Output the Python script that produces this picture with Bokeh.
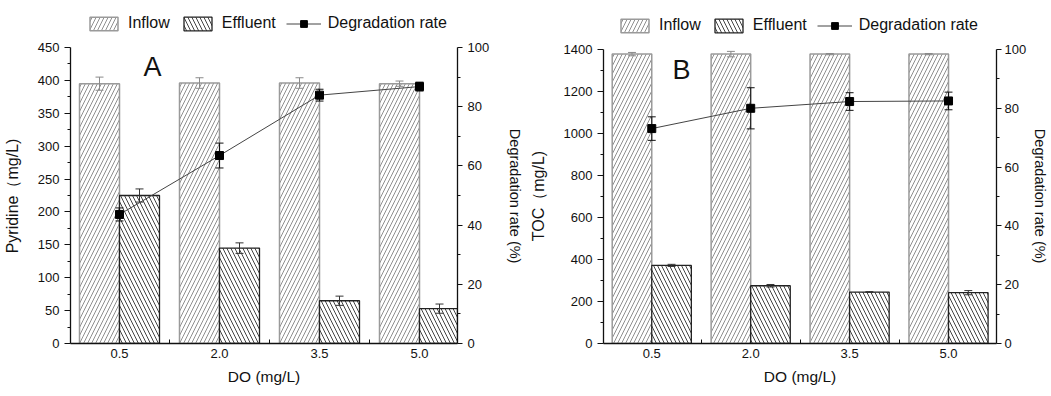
import numpy as np
from bokeh.plotting import figure
from bokeh.layouts import row
from bokeh.models import (Range1d, LinearAxis, FixedTicker, Legend, LegendItem,
                          Label, ColumnDataSource)
from bokeh.embed import file_html
from bokeh.resources import INLINE

# ---------------- data ----------------
categories = ["0.5", "2.0", "3.5", "5.0"]

a_inflow = [395, 396, 396, 395]
a_inflow_err = [10, 8, 8, 4]
a_effluent = [225, 145, 65, 53]
a_effluent_err = [10, 8, 7, 7]
a_rate = [43.6, 63.5, 83.9, 86.8]
a_rate_err = [2.2, 4.2, 2.0, 1.5]

b_inflow = [1378, 1378, 1378, 1378]
b_inflow_err = [8, 13, 3, 3]
b_effluent = [372, 275, 245, 242]
b_effluent_err = [5, 6, 2, 10]
b_rate = [73.1, 80.0, 82.3, 82.5]
b_rate_err = [4, 7, 3, 3]

FONT = "Liberation Sans"
PAD = "\u00a0"  # keeps the axis titles centred on the (bounded) axes


def err_segments(p, xs, ys, es, color, cap, width=1, y_range_name="default"):
    xs = np.asarray(xs, float)
    ys = np.asarray(ys, float)
    es = np.asarray(es, float)
    src = ColumnDataSource(dict(x=xs, lo=ys - es, hi=ys + es,
                                xl=xs - cap, xr=xs + cap))
    for x0, y0, x1, y1 in (("x", "lo", "x", "hi"), ("xl", "hi", "xr", "hi"),
                           ("xl", "lo", "xr", "lo")):
        p.segment(x0=x0, y0=y0, x1=x1, y1=y1, source=src, line_color=color,
                  line_width=width, y_range_name=y_range_name)


def make_panel(inflow, inflow_err, effluent, effluent_err, rate, rate_err,
               ymax, ystep, ytitle, letter, letter_pos, xr, frame_w,
               axis_px, frame_h, bl, br, leg_x, leg_top, r_label_standoff,
               r_tick_standoff):
    idx = np.arange(len(categories))
    # frame extends above the axis top (axis_px = pixel length of the axes)
    y_end = ymax * frame_h / axis_px
    r_end = 100.0 * frame_h / axis_px
    p = figure(frame_width=frame_w, frame_height=frame_h,
               x_range=Range1d(*xr), y_range=Range1d(0, y_end),
               output_backend="svg", toolbar_location=None,
               min_border_left=bl, min_border_right=br,
               min_border_top=8, min_border_bottom=40,
               background_fill_color="white", border_fill_color="white")
    p.extra_y_ranges = {"rate": Range1d(0, r_end)}
    p.xgrid.visible = False
    p.ygrid.visible = False
    p.outline_line_color = None

    bw = 0.4
    src_in = ColumnDataSource(dict(x=idx - bw / 2, top=inflow))
    src_ef = ColumnDataSource(dict(x=idx + bw / 2, top=effluent))
    r_in = p.vbar(x="x", top="top", width=bw, bottom=0, source=src_in,
                  fill_color="white", line_color="#9a9a9a", line_width=1.5,
                  hatch_pattern="right_diagonal_line", hatch_color="#8f8f8f",
                  hatch_scale=8, hatch_weight=1)
    r_ef = p.vbar(x="x", top="top", width=bw, bottom=0, source=src_ef,
                  fill_color="white", line_color="#222222", line_width=1.3,
                  hatch_pattern="left_diagonal_line", hatch_color="#444444",
                  hatch_scale=8, hatch_weight=1)
    err_segments(p, idx - bw / 2, inflow, inflow_err, "#8a8a8a", 0.04)
    err_segments(p, idx + bw / 2, effluent, effluent_err, "#333333", 0.04)

    # degradation rate
    src_r = ColumnDataSource(dict(x=idx, y=rate))
    r_line = p.line(x="x", y="y", source=src_r, line_color="#444444",
                    line_width=1, y_range_name="rate")
    err_segments(p, idx, rate, rate_err, "#111111", 0.04, y_range_name="rate")
    r_sq = p.scatter(x="x", y="y", source=src_r, marker="square", size=8,
                     fill_color="black", line_color="black", y_range_name="rate")

    # axes
    ax = p.yaxis[0]
    ax.ticker = FixedTicker(ticks=[float(v) for v in range(0, ymax + 1, ystep)],
                            minor_ticks=[v + ystep / 2 for v in range(0, ymax, ystep)])
    ax.bounds = (0, ymax)
    ax.axis_label = ytitle + PAD * 9
    ax.major_tick_out = 6
    ax.major_tick_in = 0
    ax.minor_tick_out = 3
    ax.minor_tick_in = 0
    ax.axis_label_standoff = 14
    ax.axis_label_text_font_size = "16px"

    xa = p.xaxis[0]
    xa.ticker = FixedTicker(ticks=[float(i) for i in idx],
                            minor_ticks=[float(i) + 0.5 for i in idx[:-1]])
    xa.major_label_overrides = {int(i): c for i, c in zip(idx, categories)}
    xa.major_tick_out = 0
    xa.major_tick_in = 0
    xa.minor_tick_in = 4
    xa.minor_tick_out = 0
    xa.major_label_standoff = 5
    xa.axis_label = "DO (mg/L)"
    xa.axis_label_standoff = 7
    xa.axis_label_text_font_size = "15.5px"

    right = LinearAxis(y_range_name="rate",
                       ticker=FixedTicker(ticks=[0, 20, 40, 60, 80, 100],
                                          minor_ticks=[10, 30, 50, 70, 90]),
                       axis_label=PAD * 10 + "Degradation rate (%)")
    right.bounds = (0, 100)
    right.major_tick_out = 5
    right.major_tick_in = 0
    right.minor_tick_out = 3
    right.minor_tick_in = 0
    right.major_label_standoff = r_tick_standoff
    right.axis_label_standoff = r_label_standoff
    right.axis_label_text_font_size = "14.5px"
    p.add_layout(right, "right")

    for a in (ax, xa, right):
        a.axis_line_color = "#111111"
        a.axis_line_width = 1.3
        a.major_tick_line_color = "#111111" if a is not xa else None
        a.minor_tick_line_color = "#111111"
        a.major_label_text_font = FONT
        a.major_label_text_font_size = "13px"
        a.major_label_text_color = "#111111"
        a.axis_label_text_font = FONT
        a.axis_label_text_font_style = "normal"
        a.axis_label_text_color = "#111111"

    legend = Legend(items=[LegendItem(label="Inflow", renderers=[r_in]),
                           LegendItem(label="Effluent", renderers=[r_ef]),
                           LegendItem(label="Degradation rate",
                                      renderers=[r_line, r_sq])],
                    orientation="horizontal",
                    location=(leg_x, frame_h - leg_top - 19),
                    label_text_font=FONT, label_text_font_size="16px",
                    label_text_color="#111111",
                    glyph_width=35, glyph_height=17, spacing=10,
                    label_standoff=7, padding=0, margin=0,
                    border_line_color=None, background_fill_alpha=0)
    p.add_layout(legend)

    p.add_layout(Label(x=letter_pos[0], y=letter_pos[1], text=letter,
                       text_font=FONT, text_font_size="27px",
                       text_align="center", text_baseline="alphabetic",
                       text_color="#111111"))
    return p


pa = make_panel(a_inflow, a_inflow_err, a_effluent, a_effluent_err, a_rate,
                a_rate_err, 450, 50, "Pyridine（mg/L)", "A", (0.33, 421),
                (-0.49, 3.38), 387, 296, 335, 62, 68, 16, 5, 15, 5)
pb = make_panel(b_inflow, b_inflow_err, b_effluent, b_effluent_err, b_rate,
                b_rate_err, 1400, 200, "TOC（mg/L)", "B", (0.30, 1303),
                (-0.488, 3.485), 393, 294, 335, 77, 48, 14, 7, 3, 3)

layout = row(pa, pb, spacing=0)
open("out.html", "w").write(file_html(layout, INLINE))
